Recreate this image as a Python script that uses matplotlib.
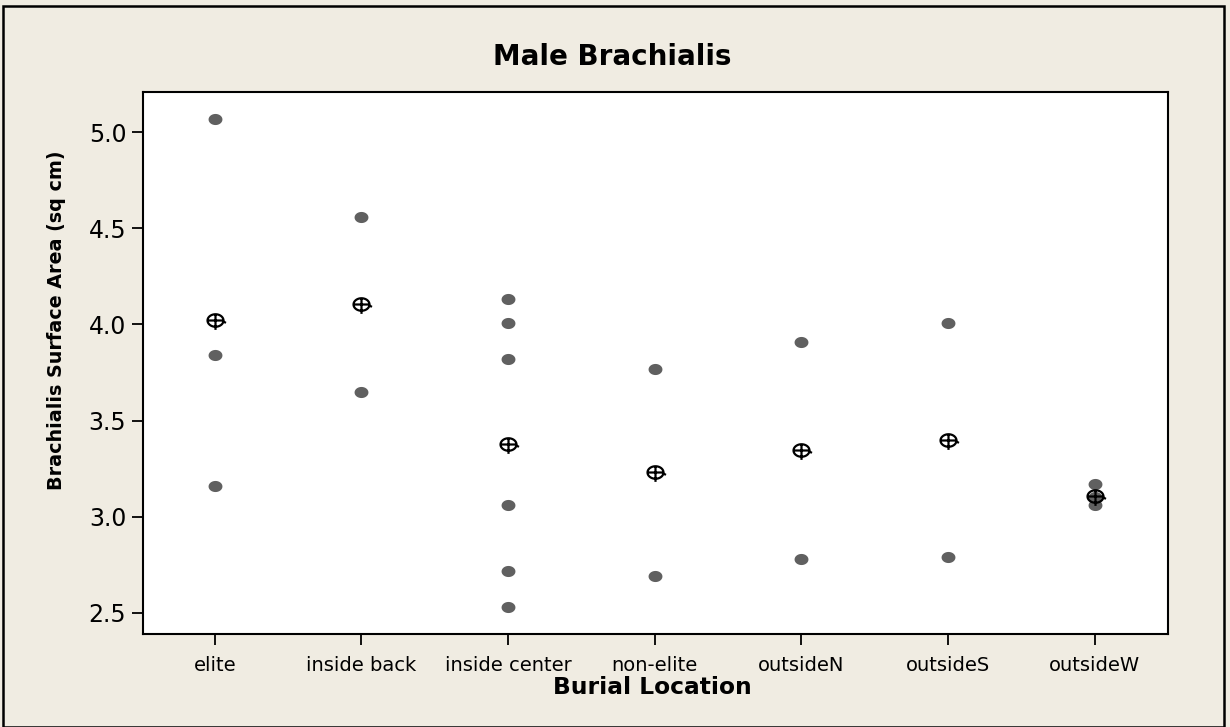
#!/usr/bin/env python3

import numpy as np
import matplotlib.pyplot as plt
from matplotlib.path import Path
from matplotlib.patches import Rectangle

locations = ["elite", "inside back", "inside center", "non-elite",
             "outsideN", "outsideS", "outsideW"]

elite = [5.07, 3.84, 3.16]
inside_back = [4.56, 3.65]
inside_center = [4.13, 4.01, 3.82, 3.06, 2.72, 2.53]
non_elite = [3.77, 2.69]
outside_n = [3.91, 2.78]
outside_s = [4.01, 2.79]
outside_w = [3.17, 3.10, 3.06]

groups = [elite, inside_back, inside_center, non_elite,
          outside_n, outside_s, outside_w]

y_ticks = [2.5, 3.0, 3.5, 4.0, 4.5, 5.0]

# slightly wide dot, like the minitab output
t = np.linspace(0, 2 * np.pi, 40)
dot = Path(np.column_stack([1.25 * np.cos(t), np.sin(t)]), closed=True)

# minitab style mean symbol: circle with cross and a small tail
verts = list(zip(1.15 * np.cos(t), 0.9 * np.sin(t)))
codes = [Path.MOVETO] + [Path.LINETO] * (len(verts) - 1)
verts += [(-1.15, 0.0), (1.15, 0.0), (0.0, 0.9), (0.0, -1.35), (1.0, -0.05), (1.5, -0.35)]
codes += [Path.MOVETO, Path.LINETO] * 3
mean_marker = Path(verts, codes)

bg = "#f0ece2"
fig = plt.figure(figsize=(12.3, 7.27), dpi=100)
fig.patch.set_facecolor(bg)
fig.patches.append(Rectangle((3 / 1230, 0.0), 1221 / 1230, 1 - 5 / 727 - 0.002,
                             transform=fig.transFigure, fill=False,
                             edgecolor="black", linewidth=1.8))

ax = fig.add_axes([143 / 1230, 1 - 634 / 727, 1025 / 1230, 542 / 727])
ax.set_facecolor("white")

for i, vals in enumerate(groups):
    ax.plot([i] * len(vals), vals, linestyle="none", marker=dot,
            markersize=10, color="#606060", markeredgewidth=0)

means = [np.mean(g) for g in groups]
ax.plot(range(len(groups)), means, linestyle="none", marker=mean_marker,
        markersize=15, markerfacecolor="none", markeredgecolor="black",
        markeredgewidth=1.6)

ax.set_xlim(-0.49, 6.5)
ax.set_ylim(2.39, 5.209)
ax.set_xticks(range(len(locations)))
ax.set_xticklabels(locations, fontsize=14)
ax.set_yticks(y_ticks)
ax.set_yticklabels([f"{v:.1f}" for v in y_ticks], fontsize=17)
ax.tick_params(axis="both", direction="out", length=8, width=1.3, color="black")
ax.tick_params(axis="x", pad=8)
ax.tick_params(axis="y", pad=4)
for s in ax.spines.values():
    s.set_linewidth(1.5)

ax.set_xlabel("Burial Location", fontsize=16.8, fontweight="bold")
ax.xaxis.set_label_coords((652 - 143) / 1025, (634 - 687) / 542)
ax.xaxis.label.set_va("center")
ax.set_ylabel("Brachialis Surface Area (sq cm)", fontsize=13.8, fontweight="bold")
ax.yaxis.set_label_coords((57 - 143) / 1025, (634 - 320) / 542)
ax.yaxis.label.set_va("center")
fig.text(612 / 1230, 1 - 57 / 727, "Male Brachialis", fontsize=20,
         fontweight="bold", ha="center", va="center")

plt.savefig("out.png", dpi=100, facecolor=bg)
